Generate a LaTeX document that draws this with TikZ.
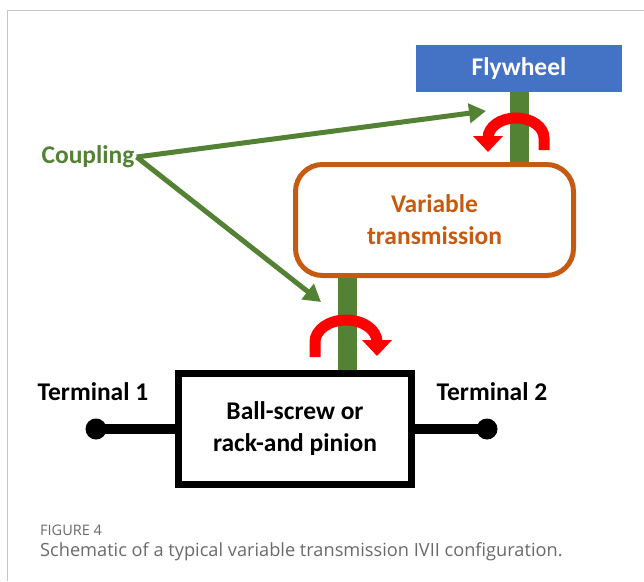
\documentclass[tikz,border=0pt]{standalone}
\usepackage{fontspec}
\setmainfont{Carlito}
\newfontfamily\capfont{Open Sans}
\usetikzlibrary{arrows.meta,positioning}

\definecolor{flyblue}{HTML}{4472C4}
\definecolor{shaftgreen}{HTML}{548235}
\definecolor{vtorange}{HTML}{C55A11}
\definecolor{spinred}{HTML}{FF0000}
\definecolor{framegray}{HTML}{C4C4C4}
\definecolor{capgray}{HTML}{6A6A6A}

\tikzset{
    labeltext/.style={font=\bfseries\fontsize{25.5}{32}\selectfont, align=center},
    shaft/.style={draw=shaftgreen, line width=19pt},
    coupler/.style={draw=shaftgreen, line width=5pt, -{Triangle[width=19pt,length=17pt]}},
    spin/.style={draw=spinred, line width=11pt, -{Triangle[width=29pt,length=16pt]}},
    terminal/.style={line width=10pt},
    termdot/.style={circle, fill, minimum size=21pt, inner sep=0pt},
    captext/.style={anchor=base west, text=capgray, inner sep=0pt},
}

\begin{document}
\begin{tikzpicture}[x=1pt,y=-1pt]
    \useasboundingbox (0,0) rectangle (644,581);
    \draw[framegray, line width=1pt] (644,10) -- (7,10) -- (7,581);

    % blocks
    \node[fill=flyblue, text=white, minimum width=206pt, minimum height=47pt, inner sep=0pt, labeltext] (fly) at (519,68.5) {Flywheel};
    \node[draw=vtorange, text=vtorange, line width=5pt, rounded corners=27pt, minimum width=278pt, minimum height=111pt, inner sep=0pt, labeltext] (vt) at (434.5,220) {Variable\\transmission};
    \node[draw, line width=7pt, minimum width=233pt, minimum height=111pt, inner sep=0pt, labeltext] (screw) at (295,429) {Ball-screw or\\rack-and pinion};

    % shafts
    \coordinate (lowshaft) at (347,0);
    \draw[shaft] (fly.south) -- (fly.south |- vt.north);
    \draw[shaft] (lowshaft |- vt.south) -- (lowshaft |- screw.north);

    % rotation arrows
    \draw[spin] (544,150) -- (544,138) arc[start angle=0, end angle=-180, x radius=28, y radius=20] -- ++(0,14);
    \draw[spin] (315,357) -- (315,342) arc[start angle=180, end angle=360, x radius=31, y radius=22] -- ++(0,14);

    % coupling
    \node[text=shaftgreen, inner sep=2pt, labeltext] (coupling) at (88,157) {Coupling};
    \coordinate (upend) at (486,111);
    \coordinate (lowend) at (321,302);
    \draw[coupler] (coupling.east) -- (upend);
    \draw[coupler] (coupling.east) -- (lowend);

    % terminals
    \node[labeltext] (term1) at (93,392) {Terminal 1};
    \node[labeltext] (term2) at (492,392) {Terminal 2};
    \node[termdot] (dot1) at (96,429) {};
    \node[termdot] (dot2) at (487,429) {};
    \draw[terminal] (dot1.center) -- (dot1.center -| screw.west);
    \draw[terminal] (screw.east |- dot2.center) -- (dot2.center);

    % caption
    \node[captext, font=\capfont\fontsize{14.5}{16}\selectfont] (fignum) at (40,535) {FIGURE 4};
    \node[captext, font=\capfont\fontsize{18.2}{22}\selectfont] (caption) at (40,556) {Schematic of a typical variable transmission IVII configuration.};
\end{tikzpicture}
\end{document}
